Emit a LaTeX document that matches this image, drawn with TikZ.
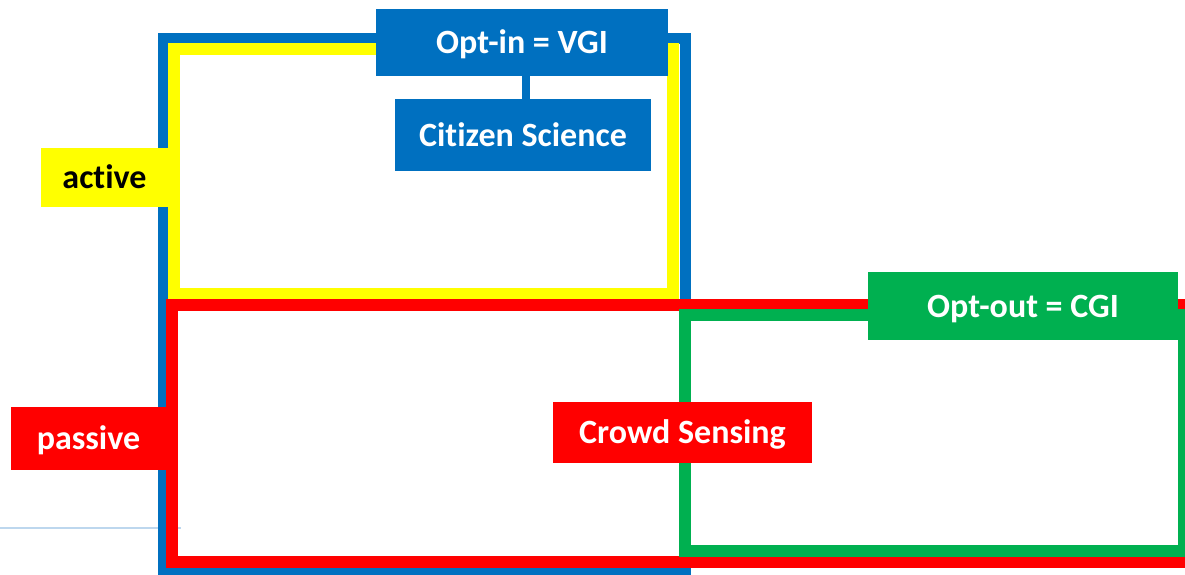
\documentclass[tikz,border=0pt]{standalone}
\usepackage{fontspec}
\setmainfont{Carlito}[Ligatures=NoCommon]
\usetikzlibrary{positioning}
\definecolor{vgiblue}{HTML}{0070C0}
\definecolor{actyellow}{HTML}{FFFF00}
\definecolor{pasred}{HTML}{FF0000}
\definecolor{cgigreen}{HTML}{00B050}
\definecolor{rulegray}{HTML}{BDD7EE}

\begin{document}
\begin{tikzpicture}[x=1pt,y=-1pt,
                       tag node/.style={rectangle,inner sep=0pt,text height=22pt,text depth=0pt,
                                        font=\fontsize{34}{40}\selectfont\bfseries},
                       area line/.style={line width=12pt}
                      ]
   \useasboundingbox (0,0) rectangle (1185,574);
   \draw[rulegray,line width=1.5pt] (0,528) -- (181,528);

   \draw[area line,vgiblue,line width=11pt] (163,38) rectangle (685,569);
   \draw[area line,actyellow] (174,49) rectangle (673,294);
   \draw[area line,pasred] (172,305) rectangle (1196,562);
   \draw[area line,cgigreen] (685,315) rectangle (1184,551);

   \node[tag node,fill=vgiblue,text=white,minimum width=292pt,minimum height=67pt] (optin) at (522,42.5) {Opt-in = VGI};
   \node[tag node,fill=vgiblue,text=white,minimum width=256pt,minimum height=72pt] (citsci) at (523,135) {Citizen Science};
   \node[tag node,fill=actyellow,text=black,minimum width=127pt,minimum height=59pt] (active) at (104.5,177.5) {active};
   \node[tag node,fill=pasred,text=white,minimum width=155pt,minimum height=63pt] (passive) at (88.5,438.5) {passive};
   \node[tag node,fill=pasred,text=white,minimum width=259pt,minimum height=61pt] (crowd) at (682.5,432.5) {Crowd Sensing};
   \node[tag node,fill=cgigreen,text=white,minimum width=310pt,minimum height=68pt] (optout) at (1023,306) {Opt-out = CGI};

   \draw[vgiblue,line width=8pt] ([xshift=4pt]optin.south) -- ([xshift=4pt]optin.south |- citsci.north);
  \end{tikzpicture}
\end{document}
